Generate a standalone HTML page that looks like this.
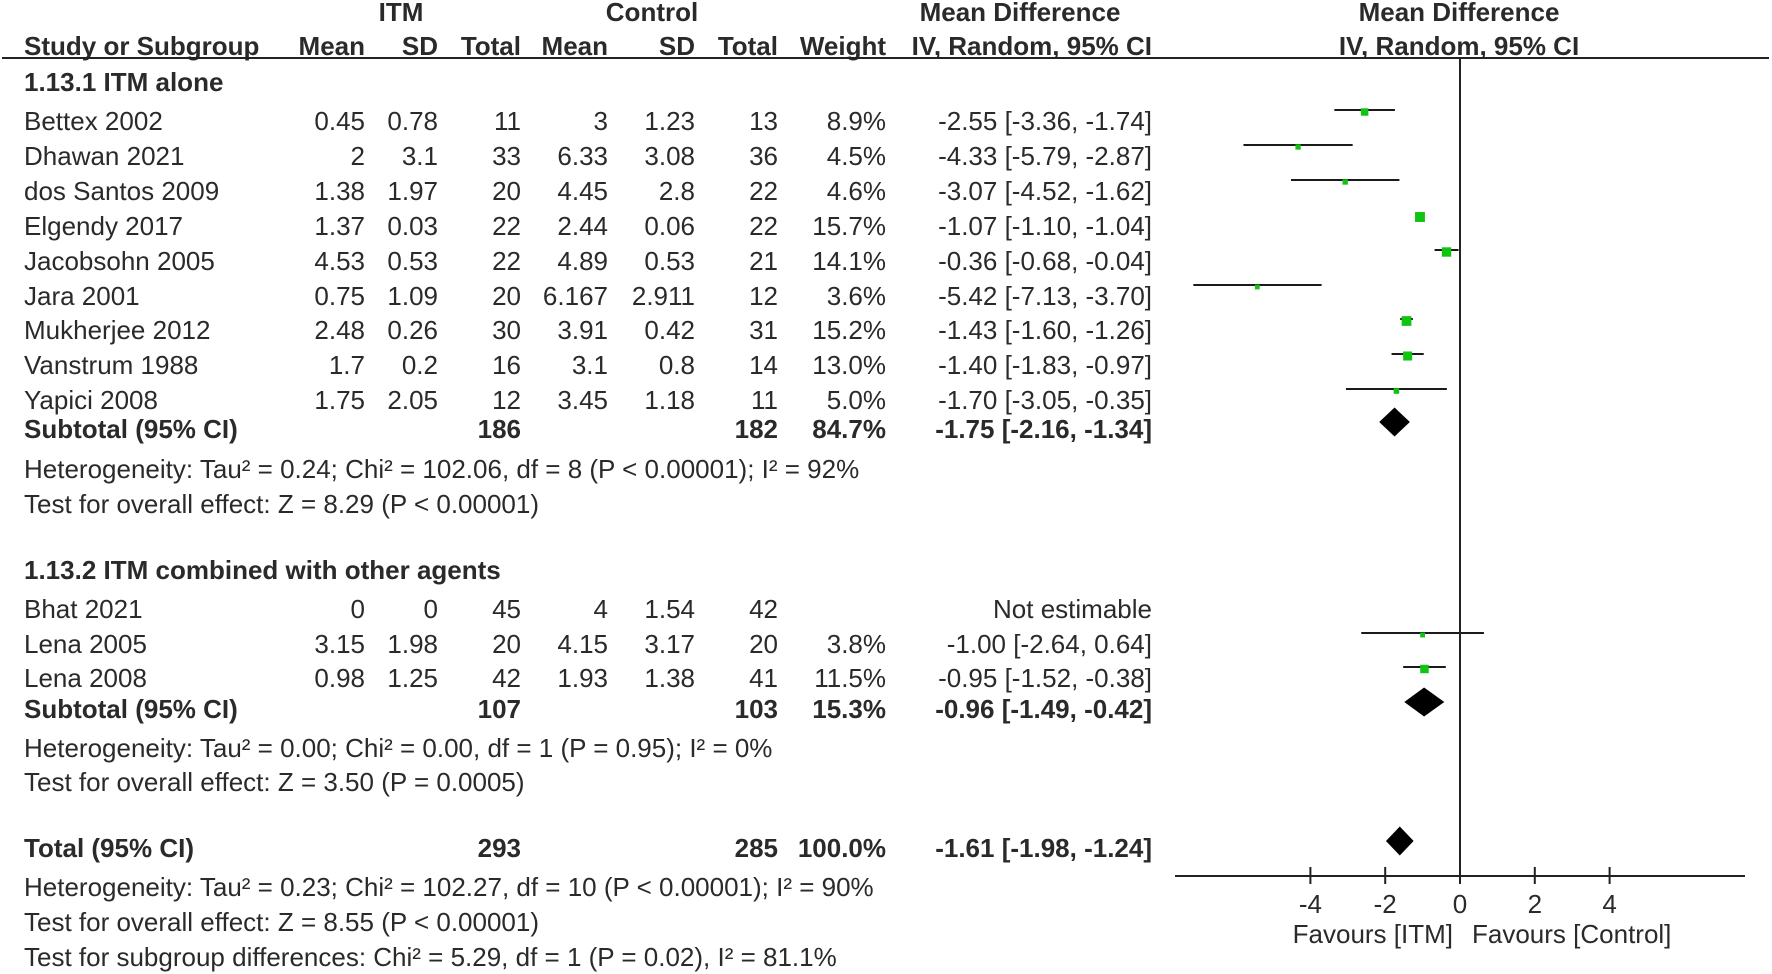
<!DOCTYPE html>
<html><head><meta charset="utf-8"><title>Forest plot</title>
<style>
html,body{margin:0;padding:0;background:#fff;}
svg{display:block;}
text{font-family:"Liberation Sans",Arial,sans-serif;font-size:26px;fill:#2a2a2a;}
.b{font-weight:bold;}
.r{text-anchor:end;}
.c{text-anchor:middle;}
</style></head>
<body>
<svg id="fp" width="1772" height="974" viewBox="0 0 1772 974" xmlns="http://www.w3.org/2000/svg">
<g>
<text class="b c" x="401" y="21">ITM</text>
<text class="b c" x="652" y="21">Control</text>
<text class="b c" x="1020" y="21">Mean Difference</text>
<text class="b c" x="1459" y="21">Mean Difference</text>
<text class="b" x="24" y="55">Study or Subgroup</text>
<text class="b r" x="365" y="55">Mean</text>
<text class="b r" x="438" y="55">SD</text>
<text class="b r" x="521" y="55">Total</text>
<text class="b r" x="608" y="55">Mean</text>
<text class="b r" x="695" y="55">SD</text>
<text class="b r" x="778" y="55">Total</text>
<text class="b r" x="886" y="55">Weight</text>
<text class="b r" x="1152" y="55">IV, Random, 95% CI</text>
<text class="b c" x="1459" y="55">IV, Random, 95% CI</text>
<line x1="2" y1="58" x2="1769" y2="58" stroke="#222" stroke-width="2"/>
</g>
<g id="rows">
<text class="b" x="24" y="91">1.13.1 ITM alone</text>
<text class="b" x="24" y="579">1.13.2 ITM combined with other agents</text>
<text x="24" y="478">Heterogeneity: Tau² = 0.24; Chi² = 102.06, df = 8 (P &lt; 0.00001); I² = 92%</text>
<text x="24" y="513">Test for overall effect: Z = 8.29 (P &lt; 0.00001)</text>
<text x="24" y="757">Heterogeneity: Tau² = 0.00; Chi² = 0.00, df = 1 (P = 0.95); I² = 0%</text>
<text x="24" y="791">Test for overall effect: Z = 3.50 (P = 0.0005)</text>
<text x="24" y="896">Heterogeneity: Tau² = 0.23; Chi² = 102.27, df = 10 (P &lt; 0.00001); I² = 90%</text>
<text x="24" y="931">Test for overall effect: Z = 8.55 (P &lt; 0.00001)</text>
<text x="24" y="966">Test for subgroup differences: Chi² = 5.29, df = 1 (P = 0.02), I² = 81.1%</text>
</g>
<g id="plot"></g>
</svg>
<script>
const NS="http://www.w3.org/2000/svg";
const studies=["Bettex 2002","Dhawan 2021","dos Santos 2009","Elgendy 2017","Jacobsohn 2005","Jara 2001","Mukherjee 2012","Vanstrum 1988","Yapici 2008","Bhat 2021","Lena 2005","Lena 2008"];
const itmMean=["0.45","2","1.38","1.37","4.53","0.75","2.48","1.7","1.75","0","3.15","0.98"];
const itmSD=["0.78","3.1","1.97","0.03","0.53","1.09","0.26","0.2","2.05","0","1.98","1.25"];
const itmN=["11","33","20","22","22","20","30","16","12","45","20","42"];
const ctlMean=["3","6.33","4.45","2.44","4.89","6.167","3.91","3.1","3.45","4","4.15","1.93"];
const ctlSD=["1.23","3.08","2.8","0.06","0.53","2.911","0.42","0.8","1.18","1.54","3.17","1.38"];
const ctlN=["13","36","22","22","21","12","31","14","11","42","20","41"];
const weights=[8.9,4.5,4.6,15.7,14.1,3.6,15.2,13.0,5.0,null,3.8,11.5];
const md=[-2.55,-4.33,-3.07,-1.07,-0.36,-5.42,-1.43,-1.40,-1.70,null,-1.00,-0.95];
const lo=[-3.36,-5.79,-4.52,-1.10,-0.68,-7.13,-1.60,-1.83,-3.05,null,-2.64,-1.52];
const hi=[-1.74,-2.87,-1.62,-1.04,-0.04,-3.70,-1.26,-0.97,-0.35,null,0.64,-0.38];
const studyBaselines=[130,165,200,235,270,305,339,374,409,618,653,687];
const sumLabels=["Subtotal (95% CI)","Subtotal (95% CI)","Total (95% CI)"];
const sumItmN=["186","107","293"];
const sumCtlN=["182","103","285"];
const sumWeight=["84.7%","15.3%","100.0%"];
const sumMd=[-1.75,-0.96,-1.61];
const sumLo=[-2.16,-1.49,-1.98];
const sumHi=[-1.34,-0.42,-1.24];
const sumBaselines=[438,718,857];
const ticks=[-4,-2,0,2,4];

const X0=1460, UNIT=37.4, AXIS_Y=876;
const xs=v=>X0+v*UNIT;
const fmt=v=>(v<0?"-":"")+Math.abs(v).toFixed(2);
const rows=document.getElementById('rows');
const plot=document.getElementById('plot');
function txt(parent,x,y,s,cls){const t=document.createElementNS(NS,'text');t.setAttribute('x',x);t.setAttribute('y',y);if(cls)t.setAttribute('class',cls);t.textContent=s;parent.appendChild(t);return t;}
function el(parent,tag,attrs){const e=document.createElementNS(NS,tag);for(const k in attrs)e.setAttribute(k,attrs[k]);parent.appendChild(e);return e;}

studies.forEach((s,i)=>{
  const y=studyBaselines[i];
  let t=txt(rows,24,y,s);
  
  
  const cells=[[365,itmMean[i]],[438,itmSD[i]],[521,itmN[i]],[608,ctlMean[i]],[695,ctlSD[i]],[778,ctlN[i]]];
  cells.forEach(c=>{const e=txt(rows,c[0],y,c[1],'r');
    
    });
  if(weights[i]!==null){
    let w=txt(rows,886,y,weights[i].toFixed(1)+"%",'r');
    
    
    let c=txt(rows,1152,y,fmt(md[i])+" ["+fmt(lo[i])+", "+fmt(hi[i])+"]",'r');
    
    
    const my=y-20;
    const ln=el(plot,'line',{x1:xs(lo[i]),x2:xs(hi[i]),y1:my,y2:my,stroke:'#1a1a1a','stroke-width':2});
    
    
    const sz=2.5*Math.sqrt(weights[i]);
    const sq=el(plot,'rect',{x:xs(md[i])-sz/2,y:my-sz/2+2,width:sz,height:sz,fill:'#11c411'});
    
    
  } else {
    let c=txt(rows,1152,y,"Not estimable",'r');
    
    
  }
});

sumLabels.forEach((s,i)=>{
  const y=sumBaselines[i];
  const a=txt(rows,24,y,s,'b');
  
  
  const b=txt(rows,521,y,sumItmN[i],'b r');
  
  
  const c=txt(rows,778,y,sumCtlN[i],'b r');
  
  
  const d=txt(rows,886,y,sumWeight[i],'b r');
  
  
  const e=txt(rows,1152,y,fmt(sumMd[i])+" ["+fmt(sumLo[i])+", "+fmt(sumHi[i])+"]",'b r');
  
  
  const cy=y-16, h=14.5;
  const p=el(plot,'polygon',{points:`${xs(sumLo[i])},${cy} ${xs(sumMd[i])},${cy-h} ${xs(sumHi[i])},${cy} ${xs(sumMd[i])},${cy+h}`,fill:'#000'});
  
  
});

const zl=el(plot,'line',{x1:X0,x2:X0,y1:58,y2:AXIS_Y,stroke:'#222','stroke-width':2});


const ax=el(plot,'line',{x1:1175,x2:1745,y1:AXIS_Y,y2:AXIS_Y,stroke:'#222','stroke-width':2});


ticks.forEach(v=>{
  const tk=el(plot,'line',{x1:xs(v),x2:xs(v),y1:AXIS_Y-9,y2:AXIS_Y+8,stroke:'#222','stroke-width':2});
  
  
  const lb=txt(plot,xs(v),913,String(v),'c');
  
  
});
const f1=txt(plot,1453,943,"Favours [ITM]",'r');


const f2=txt(plot,1472,943,"Favours [Control]");


</script>
</body></html>
